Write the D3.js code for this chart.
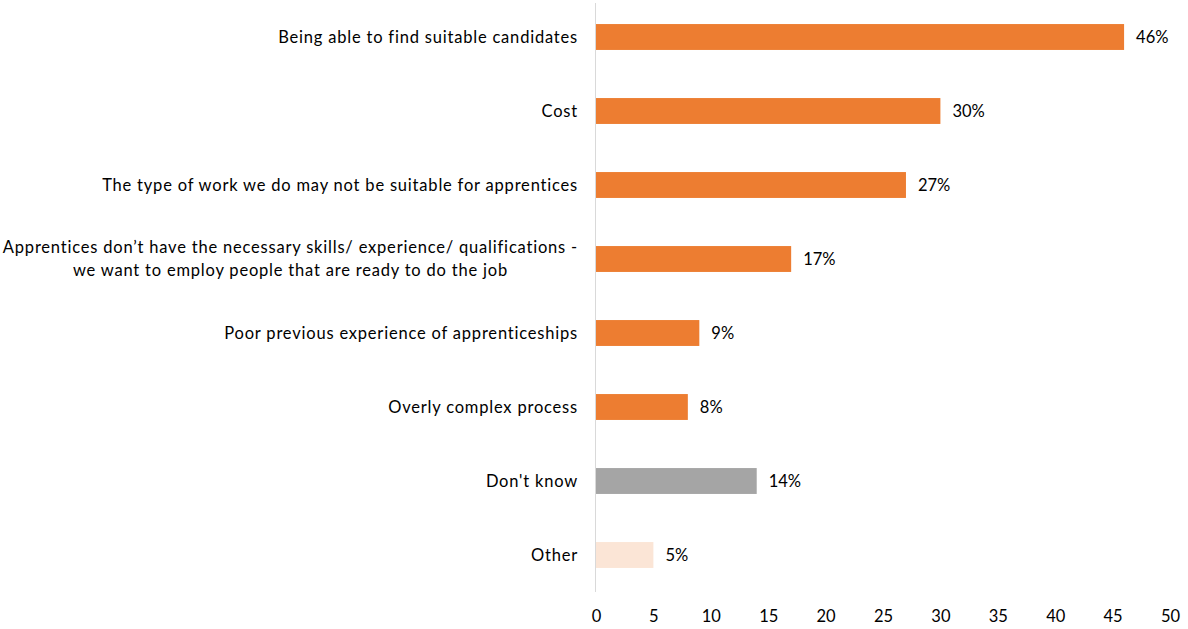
<!DOCTYPE html>
<html>
<head>
<meta charset="utf-8">
<script src="https://cdn.jsdelivr.net/npm/d3@7"></script>
<style>
  html, body { margin: 0; padding: 0; background: #fff; }
  svg text { font-family: Lato, "Open Sans", sans-serif; fill: #000; }
</style>
</head>
<body>
<svg id="chart" width="1188" height="629"></svg>
<script>
// Reasons for not offering apprenticeships (% of respondents)
const categories = [
  ["Being able to find suitable candidates"],
  ["Cost"],
  ["The type of work we do may not be suitable for apprentices"],
  ["Apprentices don\u2019t have the necessary skills/ experience/ qualifications -", "we want to employ people that are ready to do the job"],
  ["Poor previous experience of apprenticeships"],
  ["Overly complex process"],
  ["Don't know"],
  ["Other"]
];
const values = [46, 30, 27, 17, 9, 8, 14, 5];
const barColors = ["#ED7D31", "#ED7D31", "#ED7D31", "#ED7D31", "#ED7D31", "#ED7D31", "#A5A5A5", "#FBE5D6"];
const xTicks = [0, 5, 10, 15, 20, 25, 30, 35, 40, 45, 50];

const svg = d3.select("#chart");
const x0 = 596, x1 = 1170;
const x = d3.scaleLinear().domain([0, 50]).range([x0, x1]);
const y = d3.scaleBand().domain(d3.range(categories.length)).range([0, 592]).paddingInner(0.65).paddingOuter(0.325);

// bars
svg.append("g").selectAll("rect")
  .data(values)
  .join("rect")
  .attr("x", x(0))
  .attr("y", (d, i) => y(i))
  .attr("width", d => x(d) - x(0))
  .attr("height", y.bandwidth())
  .attr("fill", (d, i) => barColors[i]);

// vertical category axis line
svg.append("line")
  .attr("x1", x(0) - 0.5).attr("x2", x(0) - 0.5)
  .attr("y1", 3).attr("y2", 592)
  .attr("stroke", "#d9d9d9").attr("stroke-width", 1);

// value labels
svg.append("g").selectAll("text")
  .data(values)
  .join("text")
  .attr("x", d => x(d) + 12)
  .attr("y", (d, i) => y(i) + y.bandwidth() / 2)
  .attr("dy", "0.35em")
  .attr("font-size", 16.5)
  .text(d => d + "%");

// category labels, multi-line labels centred on each other
const labelRight = 578;
const catG = svg.append("g");
categories.forEach((lines, i) => {
  const cy = y(i) + y.bandwidth() / 2;
  const lh = 23;
  const t = catG.append("text").attr("font-size", 16.5).attr("letter-spacing", 0.8);
  const spans = lines.map((s, k) => t.append("tspan")
    .attr("y", cy + (k - (lines.length - 1) / 2) * lh)
    .attr("dy", "0.35em")
    .text(s));
  const widths = spans.map(s => s.node().getComputedTextLength());
  const wMax = d3.max(widths);
  const center = labelRight - wMax / 2;
  spans.forEach(s => s.attr("x", center).attr("text-anchor", "middle"));
});

// x axis tick labels (no axis line)
const xAxis = d3.axisBottom(x).tickValues(xTicks).tickSize(0).tickPadding(0);
const axG = svg.append("g").attr("transform", "translate(0,610)").call(xAxis);
axG.select(".domain").remove();
axG.selectAll("text").attr("font-size", 16.5).attr("font-family", "Lato, 'Open Sans', sans-serif").attr("fill", "#000");
</script>
</body>
</html>
